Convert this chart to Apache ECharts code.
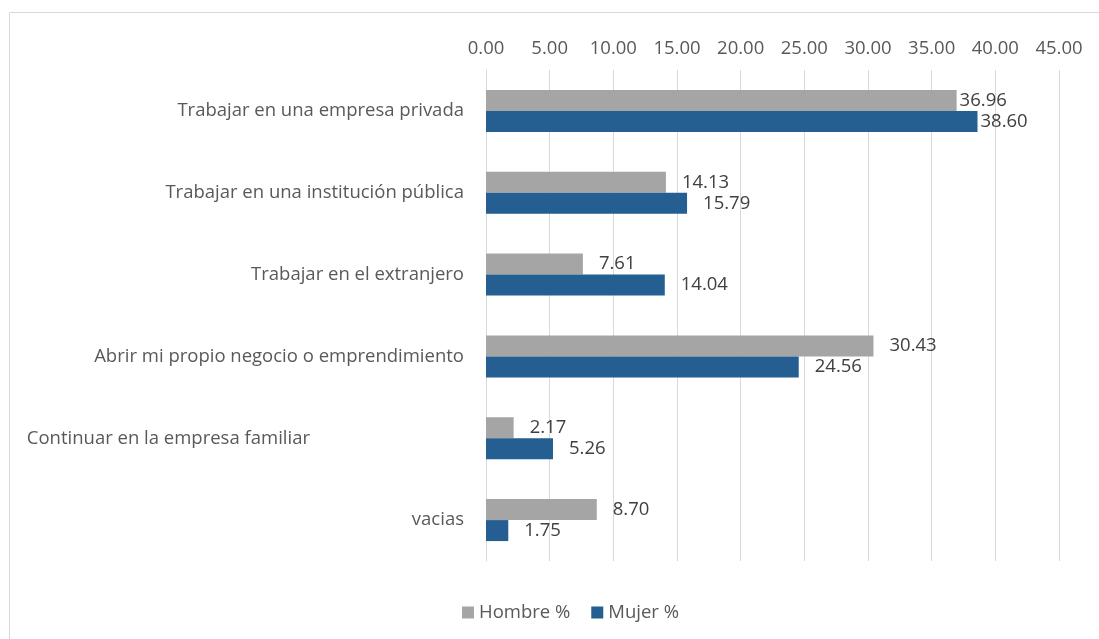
<!DOCTYPE html>
<html>
<head>
<meta charset="utf-8">
<script src="https://cdn.jsdelivr.net/npm/echarts@6/dist/echarts.min.js"></script>
<style>
  html, body { margin: 0; padding: 0; background: #fff; }
  #chart { width: 1099px; height: 639px; }
</style>
</head>
<body>
<div id="chart"></div>
<script>
const categories = [
  'Trabajar en una empresa privada',
  'Trabajar en una institución pública',
  'Trabajar en el extranjero',
  'Abrir mi propio negocio o emprendimiento',
  'Continuar en la empresa familiar',
  'vacias'
]
const hombre = [36.96, 14.13, 7.61, 30.43, 2.17, 8.70]
const mujer = [38.60, 15.79, 14.04, 24.56, 5.26, 1.75]
const seriesNames = ['Hombre %', 'Mujer %']

const chart = echarts.init(document.getElementById('chart'))
const font = '"Open Sans", sans-serif'
const fs = 18.5

const makeSeries = (name, data, color) => ({
  name: name,
  type: 'bar',
  data: data.map((v, i) => ({
    value: v,
    // the first group's labels sit almost against the bar end
    label: i === 0 ? { distance: 3 } : undefined
  })),
  barWidth: 21,
  barGap: '0%',
  itemStyle: { color: color },
  label: {
    show: true,
    position: 'right',
    distance: 16,
    color: '#404040',
    fontFamily: font,
    fontSize: fs,
    formatter: p => p.value.toFixed(2)
  }
})

const option = {
  animation: false,
  graphic: [{
    type: 'rect',
    shape: { x: 9.5, y: 12.5, width: 1200, height: 800 },
    style: { fill: 'none', stroke: '#d9d9d9', lineWidth: 1 },
    silent: true
  }],
  legend: {
    data: seriesNames,
    top: 598,
    left: 457,
    itemWidth: 12,
    itemHeight: 12,
    itemGap: 21,
    icon: 'rect',
    textStyle: { color: '#595959', fontFamily: font, fontSize: fs }
  },
  grid: { left: 486, right: 40, top: 70, bottom: 78 },
  xAxis: {
    type: 'value',
    position: 'top',
    min: 0,
    max: 45,
    interval: 5,
    axisLine: { show: false },
    axisTick: { show: false },
    splitLine: { lineStyle: { color: '#d9d9d9', width: 1 } },
    axisLabel: {
      color: '#595959',
      fontFamily: font,
      fontSize: fs,
      margin: 12,
      formatter: v => v.toFixed(2)
    }
  },
  yAxis: {
    type: 'category',
    inverse: true,
    data: categories,
    axisLine: { show: true, lineStyle: { color: '#d9d9d9', width: 1 } },
    axisTick: { show: false },
    axisLabel: {
      color: '#595959',
      fontFamily: font,
      fontSize: fs,
      margin: 22,
      formatter: (v, i) => i === 4 ? '{shift|' + v + '}' : v,
      rich: {
        shift: { color: '#595959', fontFamily: font, fontSize: fs, padding: [0, 154, 0, 0] }
      }
    }
  },
  series: [
    makeSeries(seriesNames[0], hombre, '#a5a5a5'),
    makeSeries(seriesNames[1], mujer, '#255e91')
  ]
}
chart.setOption(option)
</script>
</body>
</html>
